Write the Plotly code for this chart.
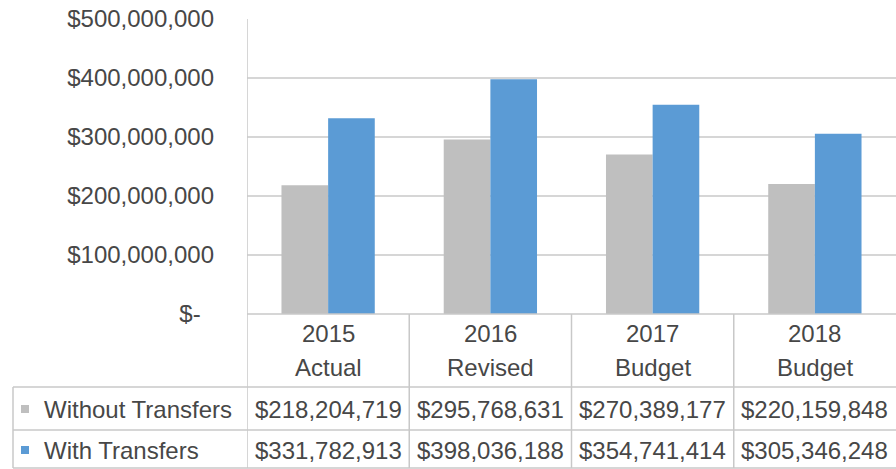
import plotly.graph_objects as go

# Budget summary: annual totals with and without transfers
years = ["2015", "2016", "2017", "2018"]
stages = ["Actual", "Revised", "Budget", "Budget"]
series_names = ["Without Transfers", "With Transfers"]
without_transfers = [218204719, 295768631, 270389177, 220159848]
with_transfers = [331782913, 398036188, 354741414, 305346248]
y_tick_values = [0, 100000000, 200000000, 300000000, 400000000, 500000000]

GRAY = "#BFBFBF"
BLUE = "#5B9BD5"
TEXT = "#474747"
LINE = "#C8C8C8"
FONT = "Liberation Sans"
FS = 24

W, H = 896, 469
ML, MR, MT, MB = 247, 0, 19, 155
plot_h = H - MT - MB
plot_w = W - ML - MR


def py(px):
    """pixel row -> paper y"""
    return (H - MB - px) / plot_h


def pxx(px):
    """pixel column -> paper x"""
    return (px - ML) / plot_w


def money(v):
    return "$-\u00a0\u00a0" if v == 0 else f"${v:,.0f}"


cats = list(range(len(years)))

fig = go.Figure()
fig.add_trace(go.Bar(x=cats, y=without_transfers, name=series_names[0],
                     marker=dict(color=GRAY, line=dict(width=0))))
fig.add_trace(go.Bar(x=cats, y=with_transfers, name=series_names[1],
                     marker=dict(color=BLUE, line=dict(width=0))))

shapes = []
annotations = []
cell_font = dict(family=FONT, size=FS, color=TEXT)

# data table grid
row_lines = [314, 387, 430, 468]
for i, r in enumerate(row_lines):
    x0 = 0 if i == 0 else pxx(13)
    shapes.append(dict(type="line", xref="paper", yref="paper", x0=x0, x1=1,
                       y0=py(r), y1=py(r), line=dict(color=LINE, width=1.5)))
# column dividers between categories
for i in range(len(years)):
    shapes.append(dict(type="line", xref="x", yref="paper", x0=i - 0.5, x1=i - 0.5,
                       y0=py(314) if i > 0 else 1, y1=py(468),
                       line=dict(color=LINE, width=1.5)))
shapes.append(dict(type="line", xref="paper", yref="paper", x0=pxx(13), x1=pxx(13),
                   y0=py(387), y1=py(468), line=dict(color=LINE, width=1.5)))

# header cells
for i, (yr, st) in enumerate(zip(years, stages)):
    annotations.append(dict(x=i, xref="x", y=py(333), yref="paper", text=yr,
                            showarrow=False, yanchor="middle", font=cell_font))
    annotations.append(dict(x=i, xref="x", y=py(367), yref="paper", text=st,
                            showarrow=False, yanchor="middle", font=cell_font))

# value rows with legend keys
row_centers = [409, 450]
for vals, name, color, rc in zip([without_transfers, with_transfers], series_names,
                                 [GRAY, BLUE], row_centers):
    shapes.append(dict(type="rect", xref="paper", yref="paper",
                       x0=pxx(21), x1=pxx(29), y0=py(rc - 4), y1=py(rc + 4),
                       fillcolor=color, line=dict(width=0)))
    annotations.append(dict(x=pxx(42), xref="paper", y=py(rc), yref="paper",
                            text=name, showarrow=False, xanchor="left", yanchor="middle",
                            font=cell_font))
    for i, v in enumerate(vals):
        annotations.append(dict(x=i, xref="x", y=py(rc), yref="paper", text=money(v),
                                showarrow=False, yanchor="middle", font=cell_font))

fig.update_layout(
    width=W, height=H,
    margin=dict(l=ML, r=MR, t=MT, b=MB, pad=0),
    paper_bgcolor="white", plot_bgcolor="white",
    barmode="group", bargap=0.425, bargroupgap=0,
    showlegend=False,
    shapes=shapes, annotations=annotations,
    font=dict(family=FONT, size=FS, color=TEXT),
)
fig.update_xaxes(range=[-0.5, len(years) - 0.5], showticklabels=False, showgrid=False,
                 zeroline=False, showline=False, fixedrange=True)
fig.update_yaxes(range=[0, 500000000], tickvals=y_tick_values,
                 ticktext=[money(v) for v in y_tick_values],
                 showgrid=True, gridcolor="#D6D6D6", gridwidth=1.5,
                 zeroline=False, showline=False, ticks="", ticklabelstandoff=32,
                 tickfont=dict(family=FONT, size=FS, color=TEXT), fixedrange=True)

fig.write_html("out.html")
